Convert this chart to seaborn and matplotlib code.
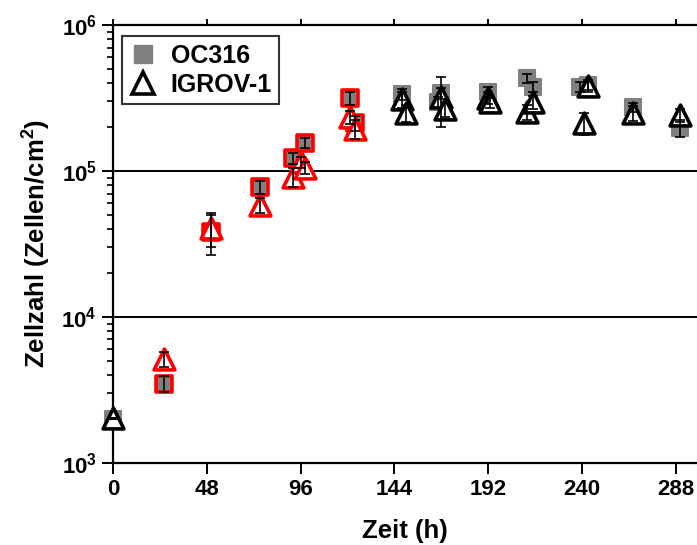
import numpy as np
import pandas as pd
import matplotlib
matplotlib.use("Agg")
import matplotlib.pyplot as plt
import seaborn as sns
from matplotlib.ticker import FixedLocator, LogLocator, NullFormatter, FuncFormatter
from matplotlib.lines import Line2D

# OC316, early experiment (red edged squares)
oc_red_t = [26, 50, 75, 92, 98, 121, 124]
oc_red_v = [3480, 38200, 77600, 122000, 155000, 315000, 212000]
oc_red_sd = [450, 11500, 8000, 10000, 12000, 30000, 25000]

# OC316, later points (grey squares)
oc_t = [0, 148, 166, 168, 192, 212, 215, 239, 243, 266, 290]
oc_v = [2000, 335000, 297000, 342000, 348000, 433000, 376000, 376000, 388000, 274000, 197000]
oc_sd = [0, 30000, 25000, 30000, 30000, 30000, 30000, 30000, 30000, 20000, 26000]

# IGROV-1, early experiment (red edged triangles)
ig_red_t = [26, 50, 75, 92, 96, 98, 121, 124]
ig_red_v = [5150, 40700, 58500, 91000, 115000, 105000, 234000, 195000]
ig_red_sd = [600, 10800, 7000, 13000, 10000, 10000, 25000, 30000]

# IGROV-1, later points (black triangles)
ig_t = [0, 148, 150, 168, 170, 192, 193, 212, 215, 241, 243, 266, 290]
ig_v = [2030, 310000, 250000, 321000, 266000, 316000, 297000, 253000, 297000, 213000, 380000, 250000, 242000]
ig_sd = [0, 40000, 35000, 120000, 30000, 30000, 25000, 30000, 30000, 36000, 30000, 30000, 25000]

x_ticks = [0, 48, 96, 144, 192, 240, 288]
legend_labels = ["OC316", "IGROV-1"]

sns.set_style("ticks")
plt.rcParams["font.family"] = ["Liberation Sans", "DejaVu Sans"]
plt.rcParams["font.weight"] = "bold"
plt.rcParams["mathtext.fontset"] = "custom"
plt.rcParams["mathtext.rm"] = "Liberation Sans:bold"
plt.rcParams["mathtext.it"] = "Liberation Sans:bold"
plt.rcParams["mathtext.bf"] = "Liberation Sans:bold"
for key in ["text.color", "axes.labelcolor", "xtick.color", "ytick.color", "axes.edgecolor"]:
    plt.rcParams[key] = "black"

fig = plt.figure(figsize=(6.97, 5.45), dpi=100)
ax = fig.add_axes([0.162, 0.151, 0.838, 0.803])

grey = "#808080"
sq = 11
tri = 15

df_oc = pd.DataFrame({"t": oc_t, "v": oc_v})
df_oc_red = pd.DataFrame({"t": oc_red_t, "v": oc_red_v})
df_ig = pd.DataFrame({"t": ig_t, "v": ig_v})
df_ig_red = pd.DataFrame({"t": ig_red_t, "v": ig_red_v})

sns.scatterplot(data=df_oc, x="t", y="v", marker="s", s=sq ** 2, color=grey,
                edgecolor=grey, linewidth=1.5, ax=ax, clip_on=False, zorder=3)
sns.scatterplot(data=df_oc_red, x="t", y="v", marker="s", s=sq ** 2, color=grey,
                edgecolor="red", linewidth=2.6, ax=ax, clip_on=False, zorder=3)
sns.scatterplot(data=df_ig, x="t", y="v", marker="^", s=tri ** 2, color="white",
                edgecolor="black", linewidth=2.6, ax=ax, clip_on=False, zorder=4)
sns.scatterplot(data=df_ig_red, x="t", y="v", marker="^", s=tri ** 2, color="white",
                edgecolor="red", linewidth=2.6, ax=ax, clip_on=False, zorder=4)

# error bars drawn over the markers, like the original
for t, v, sd in [(oc_t, oc_v, oc_sd), (oc_red_t, oc_red_v, oc_red_sd),
                 (ig_t, ig_v, ig_sd), (ig_red_t, ig_red_v, ig_red_sd)]:
    ax.errorbar(t, v, yerr=sd, fmt="none", ecolor="black", elinewidth=1.2,
                capsize=3.5, capthick=1.2, zorder=5, clip_on=False)

ax.set_yscale("log")
ax.set_ylim(1e3, 1e6)
ax.set_xlim(0, 298.7)
ax.xaxis.set_major_locator(FixedLocator(x_ticks))
ax.yaxis.set_major_locator(FixedLocator([1e3, 1e4, 1e5, 1e6]))
ax.yaxis.set_major_formatter(FuncFormatter(lambda v, p: r"$10^{%d}$" % round(np.log10(v))))
ax.yaxis.set_minor_locator(LogLocator(base=10, subs=np.arange(2, 10)))
ax.yaxis.set_minor_formatter(NullFormatter())

for y in [1e4, 1e5]:
    ax.axhline(y, color="black", lw=1.4, zorder=1)

for side in ["left", "bottom", "top"]:
    ax.spines[side].set_linewidth(1.6)
ax.spines["right"].set_visible(False)

ax.tick_params(axis="both", which="major", labelsize=16, width=1.4, length=8,
               direction="out")
ax.tick_params(axis="y", which="minor", width=1.2, length=4.5, direction="out")
ax.tick_params(axis="x", which="major", top=True, labeltop=False)
for tl in ax.xaxis.get_major_ticks():
    tl.tick2line.set_markersize(4)
for lab in ax.get_xticklabels() + ax.get_yticklabels():
    lab.set_fontweight("bold")

ax.set_xlabel("Zeit (h)", fontsize=18.5, fontweight="bold", labelpad=14)
ax.set_ylabel(r"Zellzahl (Zellen/cm$^{2}$)", fontsize=18.5, fontweight="bold", labelpad=6)

handles = [
    Line2D([], [], marker="s", ls="none", color=grey, markersize=12.5),
    Line2D([], [], marker="^", ls="none", markerfacecolor="white",
           markeredgecolor="black", markeredgewidth=2.6, markersize=16),
]
leg = ax.legend(handles, legend_labels, loc="upper left",
                bbox_to_anchor=(0.0154, 0.975), borderaxespad=0,
                prop={"size": 18, "weight": "bold"}, frameon=True, fancybox=False,
                handletextpad=0.55, borderpad=0.3, labelspacing=0.2, handlelength=1.1)
leg.get_frame().set_edgecolor("black")
leg.get_frame().set_linewidth(1.5)
leg.set_zorder(10)

fig.savefig("out.png", dpi=100)
